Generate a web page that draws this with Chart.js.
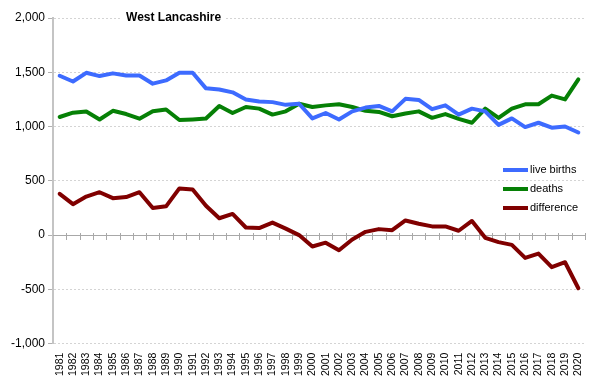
<!DOCTYPE html>
<html>
<head>
<meta charset="utf-8">
<script src="https://cdn.jsdelivr.net/npm/chart.js@4/dist/chart.umd.min.js"></script>
<style>
    html, body { margin: 0; padding: 0; background: #fff; }
    #wrap { width: 600px; height: 385px; position: relative; }
</style>
</head>
<body>
<div id="wrap"><canvas id="grafico"></canvas></div>
<script>

const years = ["1981", "1982", "1983", "1984", "1985", "1986", "1987", "1988", "1989", "1990",
    "1991", "1992", "1993", "1994", "1995", "1996", "1997", "1998", "1999", "2000",
    "2001", "2002", "2003", "2004", "2005", "2006", "2007", "2008", "2009", "2010",
    "2011", "2012", "2013", "2014", "2015", "2016", "2017", "2018", "2019", "2020"];

const liveBirths = [1468, 1415, 1495, 1465, 1490, 1470, 1470, 1395, 1425, 1495,
    1495, 1352, 1342, 1315, 1250, 1230, 1225, 1200, 1210, 1075,
    1125, 1065, 1140, 1175, 1190, 1140, 1255, 1245, 1160, 1195,
    1110, 1165, 1140, 1015, 1075, 995, 1035, 990, 1000, 945];

const deaths = [1088, 1128, 1138, 1065, 1145, 1115, 1072, 1140, 1157, 1060,
    1066, 1074, 1190, 1125, 1180, 1165, 1110, 1140, 1210, 1180,
    1195, 1205, 1180, 1145, 1135, 1095, 1120, 1140, 1080, 1115,
    1070, 1035, 1165, 1080, 1165, 1205, 1205, 1285, 1250, 1435];

const difference = [380, 285, 355, 395, 340, 350, 395, 250, 265, 430,
    420, 270, 155, 195, 70, 65, 115, 60, 0, -105,
    -70, -140, -40, 30, 55, 45, 135, 105, 80, 80,
    40, 130, -25, -65, -90, -210, -170, -295, -250, -490];

const yTicks = [-1000, -500, 0, 500, 1000, 1500, 2000];

const fuente = "'Liberation Sans', Arial, sans-serif";

// zero line with small category ticks, title and legend drawn by hand
const extras = {
    id: "extras",
    beforeDatasetsDraw(chart) {
        const { ctx, chartArea, scales } = chart;
        const y0 = Math.round(scales.y.getPixelForValue(0));
        const paso = scales.x.getPixelForValue(1) - scales.x.getPixelForValue(0);
        ctx.save();
        ctx.strokeStyle = "#a8a8a8";
        ctx.lineWidth = 1;
        ctx.beginPath();
        ctx.moveTo(chartArea.left, y0 + 0.5);
        ctx.lineTo(chartArea.right, y0 + 0.5);
        for (let i = 1; i <= years.length; i++) {
            const x = Math.round(scales.x.getPixelForValue(i) - paso / 2) + 0.5;
            ctx.moveTo(x, y0 - 2);
            ctx.lineTo(x, y0 + 5);
        }
        ctx.stroke();
        ctx.restore();
    },
    afterDraw(chart) {
        const { ctx, chartArea } = chart;
        ctx.save();
        ctx.font = "bold 12px " + fuente;
        const titulo = "West Lancashire";
        const tw = ctx.measureText(titulo).width;
        const tx = chartArea.left + 73;
        ctx.fillStyle = "#fff";
        ctx.fillRect(tx - 4, chartArea.top - 6, tw + 8, 12);
        ctx.fillStyle = "#000";
        ctx.textBaseline = "middle";
        ctx.fillText(titulo, tx, chartArea.top);

        ctx.font = "11px " + fuente;
        const lx = 503;
        chart.data.datasets.forEach((ds, i) => {
            const ly = 170 + i * 19;
            ctx.strokeStyle = ds.borderColor;
            ctx.lineWidth = 4;
            ctx.beginPath();
            ctx.moveTo(lx, ly);
            ctx.lineTo(lx + 25, ly);
            ctx.stroke();
            ctx.fillStyle = "#000";
            ctx.fillText(ds.label, lx + 27, ly);
        });
        ctx.restore();
    }
};

new Chart(document.getElementById("grafico"), {
    type: "line",
    data: {
        labels: years,
        datasets: [
            {
                label: "live births",
                data: liveBirths,
                borderColor: "#3d6bff",
                backgroundColor: "#3d6bff",
                borderWidth: 4,
                tension: 0
            },
            {
                label: "deaths",
                data: deaths,
                borderColor: "#068006",
                backgroundColor: "#068006",
                borderWidth: 4,
                tension: 0
            },
            {
                label: "difference",
                data: difference,
                borderColor: "#800000",
                backgroundColor: "#800000",
                borderWidth: 4,
                tension: 0
            }
        ]
    },
    options: {
        responsive: true,
        maintainAspectRatio: false,
        animation: false,
        layout: { padding: { left: 8, right: 4, top: 18, bottom: 0 } },
        elements: { point: { radius: 0 }, line: { borderJoinStyle: "round", borderCapStyle: "round" } },
        plugins: {
            legend: { display: false },
            tooltip: { enabled: false }
        },
        scales: {
            x: {
                offset: true,
                grid: { display: false, drawTicks: false },
                border: { display: false },
                ticks: {
                    autoSkip: false,
                    minRotation: 90,
                    maxRotation: 90,
                    padding: 9,
                    color: "#000",
                    font: { family: fuente, size: 10.5 }
                }
            },
            y: {
                min: -1000,
                max: 2000,
                afterBuildTicks(axis) {
                    axis.ticks = yTicks.map(v => ({ value: v }));
                },
                grid: { color: "#d4d4d4", tickLength: 5, tickColor: "#b0b0b0" },
                border: { color: "#c4c4c4", width: 2, dash: [2, 2] },
                ticks: {
                    padding: 3,
                    color: "#000",
                    font: { family: fuente, size: 12 },
                    callback: v => v.toLocaleString("en-US")
                }
            }
        }
    },
    plugins: [extras]
});

</script>
</body>
</html>
